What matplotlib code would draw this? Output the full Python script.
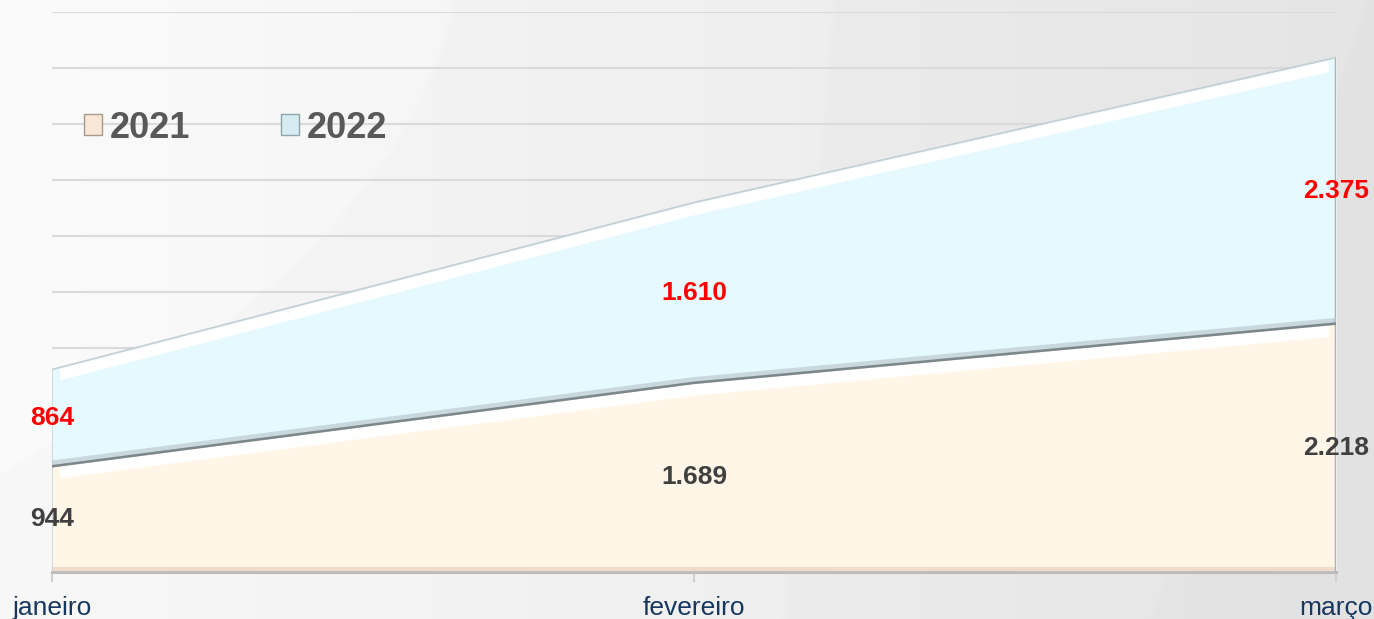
import matplotlib
matplotlib.use("Agg")
import matplotlib.pyplot as plt
import numpy as np
from matplotlib.patches import Patch

plt.rcParams['font.family'] = ['Liberation Sans', 'DejaVu Sans']

# data
months = ["janeiro", "fevereiro", "março"]
years = ["2021", "2022"]
v2021 = [944, 1689, 2218]
v2022 = [864, 1610, 2375]


def fmt(v):
    return f"{v:,}".replace(",", ".")


W, H = 1374, 619
fig = plt.figure(figsize=(W / 100, H / 100), dpi=100)

# background: grey gradient with soft curved bands
bg = fig.add_axes([0, 0, 1, 1], zorder=-5)
yy, xx = np.mgrid[0:H, 0:W].astype(float)
shade = 0.972 - 0.06 * xx / W
c1 = 456 - 0.162 * yy - 0.001688 * yy ** 2
c2 = 830 - 0.08 * yy
c3 = 1365 - 0.35 * yy
shade += 0.012 * np.clip((c1 - xx) / 6, 0, 1)
shade -= 0.014 * np.clip((xx - c2) / 6, 0, 1)
shade -= 0.012 * np.clip((xx - c3) / 6, 0, 1)
bg.imshow(np.dstack([shade] * 3), aspect="auto", extent=[0, 1, 0, 1], origin="upper")
bg.set_axis_off()

ax = fig.add_axes([52 / W, 47 / H, 1284 / W, 560 / H])
ax.patch.set_alpha(0)
x = np.arange(len(months))
ax.set_xlim(0, 2)
ax.set_ylim(0, 5000)

ax.set_yticks(np.arange(500, 5001, 500))
ax.yaxis.grid(True, color="#dadada", lw=1.5)
ax.set_axisbelow(True)
ax.tick_params(axis="y", left=False, labelleft=False)
for s in ["top", "right", "left"]:
    ax.spines[s].set_visible(False)
ax.spines["bottom"].set_color("#bcbcbc")
ax.spines["bottom"].set_linewidth(2.2)
ax.set_xticks(x)
ax.set_xticklabels(months, fontsize=19, color="#17375e")
ax.tick_params(axis="x", length=7, width=1.5, color="#d0d0d0", pad=10)

# stacked areas with bevel look
xb = np.array([0.012, 1.0, 1.988])
bottom = np.zeros(3)
series = [(v2021, "#fff6e8"), (v2022, "#e6f9fe")]
for vals, face in series:
    vals = np.array(vals)
    top = bottom + vals
    ax.fill_between(x, bottom, top, color=face, lw=0, zorder=2)
    tb = np.interp(xb, x, top)
    ax.fill_between(xb, tb - 110, tb - 8, color="white", lw=0, zorder=3)
    ax.plot([2, 2], [bottom[2], top[2]], color="#aab4b6", lw=2.5, zorder=4)
    ax.plot([0, 0], [bottom[0], top[0]], color="#c9d3d5", lw=1.2, zorder=4)
    bottom = top

# boundary lines
ax.plot(x, np.array(v2021) + 20, color="#b4c2c6", lw=5, zorder=4, alpha=0.6)
ax.plot(x, np.array(v2021), color="#7b878a", lw=1.8, zorder=4)
ax.plot(x, bottom, color="#c2cfd3", lw=1.2, zorder=4)
ax.plot(x, [25, 25, 25], color="#f0dccd", lw=3, zorder=3)

# data labels
for i in x:
    ax.text(i, v2021[i] / 2, fmt(v2021[i]), ha="center", va="center",
            fontsize=19, fontweight="bold", color="#404040", zorder=6)
    ax.text(i, v2021[i] + v2022[i] / 2, fmt(v2022[i]), ha="center", va="center",
            fontsize=19, fontweight="bold", color="#ff0000", zorder=6)

handles = [Patch(facecolor="#f8e6d6", edgecolor="#a99a8c", lw=1),
           Patch(facecolor="#d5edf1", edgecolor="#8fa3a8", lw=1)]
ax.legend(handles, years, loc="center left", bbox_to_anchor=(84 / W, 1 - 128 / H),
          bbox_transform=fig.transFigure, frameon=False, ncol=2,
          prop={"size": 26, "weight": "bold"}, labelcolor="#595959",
          handlelength=0.5, handleheight=0.5, handletextpad=0.22,
          columnspacing=2.5, borderpad=0, borderaxespad=0)

fig.savefig("out.png", dpi=100)
plt.close(fig)
